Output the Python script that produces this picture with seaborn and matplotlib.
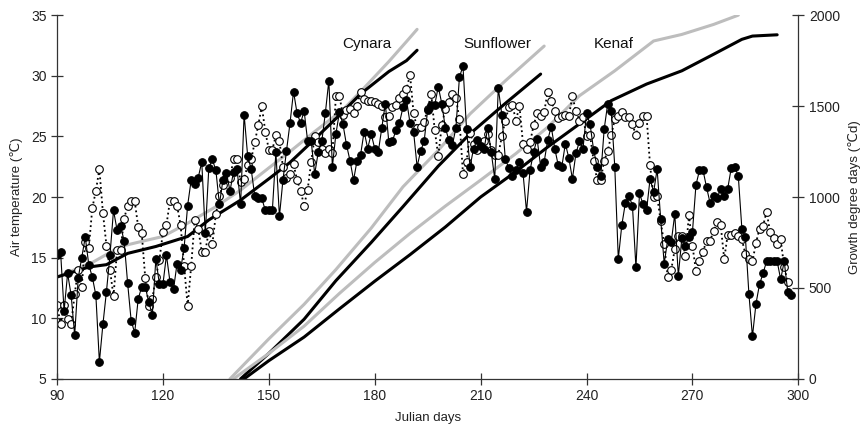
import matplotlib
matplotlib.use("Agg")
import matplotlib.pyplot as plt
import seaborn as sns

# ---- daily air temperature (filled circles, solid line) ----
days_filled = list(range(90, 299))
temp_filled = [
    15.2, 15.5, 10.6, 13.7, 11.9, 8.6, 13.3, 15.0, 16.7, 14.4,
    13.4, 11.9, 6.4, 9.5, 12.2, 15.2, 18.9, 17.3, 17.6, 16.4,
    12.9, 9.8, 8.8, 11.6, 12.6, 12.6, 11.3, 10.3, 14.9, 12.8,
    12.8, 15.2, 13.0, 12.4, 14.5, 14.0, 15.8, 19.3, 21.4, 21.1,
    21.6, 22.9, 17.0, 22.4, 23.1, 22.2, 19.4, 21.4, 22.0, 20.5,
    22.1, 22.3, 19.4, 26.8, 23.4, 22.3, 20.1, 19.9, 19.9, 18.9,
    18.9, 18.9, 23.7, 18.4, 21.4, 23.8, 26.1, 28.7, 26.9, 26.1,
    27.1, 24.6, 24.6, 21.9, 23.7, 24.6, 26.9, 29.6, 22.5, 25.2,
    27.0, 26.0, 24.3, 23.0, 21.4, 23.0, 23.5, 25.4, 24.0, 25.2,
    24.0, 23.7, 25.7, 27.7, 24.5, 24.6, 25.5, 26.1, 27.4, 28.0,
    26.1, 25.4, 22.5, 23.8, 24.6, 27.2, 27.6, 27.6, 29.1, 27.7,
    25.7, 24.7, 24.3, 25.7, 29.9, 30.8, 25.6, 22.5, 24.0, 24.7,
    24.2, 24.0, 25.7, 23.7, 21.5, 29.0, 26.8, 23.1, 22.4, 21.7,
    22.2, 22.9, 22.0, 18.8, 22.2, 23.7, 24.8, 22.5, 22.9, 24.7,
    25.8, 24.0, 22.6, 22.5, 24.4, 23.2, 21.5, 23.6, 24.6, 24.0,
    26.9, 26.0, 23.9, 22.5, 21.7, 25.6, 27.7, 27.1, 22.5, 14.9,
    17.7, 19.5, 20.1, 19.3, 14.2, 20.3, 19.4, 18.9, 21.5, 20.4,
    22.3, 18.2, 14.5, 16.5, 16.3, 18.6, 13.5, 16.6, 16.0, 16.7,
    17.1, 21.0, 22.2, 22.2, 20.8, 19.5, 20.1, 19.9, 20.7, 20.1,
    20.7, 22.4, 22.5, 21.7, 17.4, 16.7, 12.0, 8.5, 11.2, 12.8,
    13.7, 14.7, 14.7, 14.7, 14.7, 13.2, 14.7, 12.2, 11.9,
]

# ---- daily air temperature (open circles, dotted line) ----
days_open = list(range(90, 298))
temp_open = [
    11.1, 9.5, 11.1, 9.9, 9.5, 12.0, 14.0, 12.6, 16.3, 15.8,
    19.1, 20.5, 22.3, 18.7, 16.0, 14.0, 11.8, 15.6, 15.6, 18.2,
    19.3, 19.7, 19.7, 17.5, 17.0, 13.3, 11.0, 11.6, 13.4, 14.8,
    17.1, 17.7, 19.7, 19.7, 19.3, 17.7, 14.3, 11.0, 14.3, 18.1,
    17.4, 15.5, 15.5, 17.2, 16.1, 18.6, 20.1, 21.0, 21.6, 21.6,
    23.1, 23.1, 21.2, 21.5, 22.6, 23.1, 24.5, 25.9, 27.5, 25.4,
    23.9, 23.9, 25.1, 24.6, 22.5, 21.6, 21.9, 22.7, 21.4, 20.5,
    19.3, 20.6, 22.9, 25.0, 24.5, 24.0, 23.6, 24.0, 23.6, 28.3,
    28.3, 26.8, 27.2, 27.3, 26.9, 27.5, 28.7, 28.1, 27.9, 27.9,
    27.8, 27.7, 27.5, 26.6, 26.7, 27.4, 27.6, 28.2, 28.5, 28.9,
    30.1, 26.9, 25.7, 25.8, 26.2, 27.3, 28.5, 25.5, 23.4, 25.9,
    27.3, 27.8, 28.5, 28.2, 26.4, 21.9, 22.9, 25.3, 24.4, 23.9,
    24.2, 24.6, 25.2, 23.9, 23.5, 23.5, 25.0, 26.3, 27.4, 27.6,
    26.3, 27.5, 24.4, 24.0, 24.5, 25.9, 26.9, 26.7, 27.0, 28.7,
    27.9, 27.1, 26.5, 26.7, 26.8, 26.7, 28.3, 27.1, 26.3, 26.6,
    25.0, 25.1, 23.0, 21.4, 21.4, 23.0, 23.8, 25.1, 26.4, 26.7,
    27.0, 26.6, 26.6, 26.0, 25.1, 26.1, 26.7, 26.7, 22.6, 20.0,
    20.1, 18.0, 16.1, 13.4, 14.0, 15.7, 16.8, 16.8, 15.1, 18.5,
    16.0, 13.9, 14.7, 15.5, 16.4, 16.4, 17.2, 17.9, 17.7, 14.9,
    16.9, 16.9, 17.0, 16.8, 16.5, 15.3, 14.9, 14.7, 16.2, 17.4,
    17.6, 18.8, 17.1, 16.6, 16.1, 16.5, 14.2, 13.0,
]

# ---- growth degree days (right axis) ----
cyn_black_days = [90, 99, 104, 110, 118, 127, 133, 142, 150, 156, 162, 170, 176, 184, 189, 192]
cyn_black_gdd = [560, 615, 628, 690, 728, 783, 874, 983, 1100, 1190, 1300, 1450, 1567, 1690, 1750, 1807]
cyn_gray_days = [90, 100, 108, 114, 120, 127, 135, 142, 150, 156, 163, 171, 177, 184, 189, 192]
cyn_gray_gdd = [560, 640, 728, 756, 783, 856, 947, 1038, 1160, 1250, 1360, 1480, 1600, 1745, 1855, 1922]

sun_black_days = [142, 150, 160, 169, 179, 188, 198, 207, 217, 227]
sun_black_gdd = [0, 140, 328, 540, 750, 947, 1170, 1348, 1515, 1676]
sun_gray_days = [139, 150, 160, 169, 179, 188, 198, 207, 217, 228]
sun_gray_gdd = [0, 220, 410, 601, 829, 1056, 1257, 1457, 1639, 1830]

ken_black_days = [143, 150, 160, 170, 180, 190, 200, 210, 220, 229, 238, 247, 257, 267, 276, 284, 287, 291, 294]
ken_black_gdd = [0, 100, 230, 385, 537, 683, 835, 1000, 1140, 1275, 1402, 1530, 1621, 1694, 1785, 1867, 1885, 1889, 1892]
ken_gray_days = [140, 150, 160, 170, 180, 190, 200, 210, 220, 229, 238, 248, 259, 267, 276, 283]
ken_gray_gdd = [0, 140, 290, 470, 640, 800, 950, 1093, 1239, 1384, 1557, 1694, 1858, 1894, 1949, 2000]

crop_labels = ["Cynara", "Sunflower", "Kenaf"]
crop_label_x = [177.7, 214.8, 247.8]

GRAY = "#bdbdbd"
AXC = "#333333"

sns.set_style("ticks")
plt.rcParams["font.family"] = ["Liberation Sans", "DejaVu Sans"]

fig = plt.figure(figsize=(8.64, 4.33), dpi=100)
ax = fig.add_axes([0.066, 0.125, 0.858, 0.84])
ax2 = ax.twinx()

curves = [
    (cyn_gray_days, cyn_gray_gdd, GRAY),
    (cyn_black_days, cyn_black_gdd, "black"),
    (sun_gray_days, sun_gray_gdd, GRAY),
    (sun_black_days, sun_black_gdd, "black"),
    (ken_gray_days, ken_gray_gdd, GRAY),
    (ken_black_days, ken_black_gdd, "black"),
]
for d, g, c in curves:
    sns.lineplot(x=d, y=g, ax=ax2, color=c, linewidth=2.2, legend=False)

sns.lineplot(x=days_open, y=temp_open, ax=ax, color="black", linestyle=":",
             linewidth=1.3, marker="o", markersize=5.5, markerfacecolor="white",
             markeredgecolor="black", markeredgewidth=0.8, legend=False)
sns.lineplot(x=days_filled, y=temp_filled, ax=ax, color="black", linewidth=0.8,
             marker="o", markersize=5.5, markerfacecolor="black",
             markeredgecolor="black", legend=False)

ax.set_zorder(ax2.get_zorder() + 1)
ax.patch.set_visible(False)

ax.set_xlim(90, 300)
ax.set_ylim(5, 35)
ax2.set_ylim(0, 2000)
ax.set_xticks(range(90, 301, 30))
ax.set_yticks(range(5, 36, 5))
ax2.set_yticks(range(0, 2001, 500))

for a in (ax, ax2):
    a.spines["top"].set_visible(False)
    for s in a.spines.values():
        s.set_color(AXC)
        s.set_linewidth(0.9)
ax.spines["right"].set_visible(False)
ax2.spines["left"].set_visible(False)
ax2.spines["bottom"].set_visible(False)

ax.tick_params(axis="both", direction="inout", length=8, width=0.9, colors=AXC,
               labelcolor="#222222", labelsize=10)
ax2.tick_params(axis="y", direction="inout", length=8, width=0.9, colors=AXC,
                labelcolor="#222222", labelsize=10)

ax.set_xlabel("Julian days", fontsize=9.5, color="#222222", labelpad=6)
ax.set_ylabel("Air temperature (℃)", fontsize=9.5, color="#222222", labelpad=6)
ax2.set_ylabel("Growth degree days (℃d)", fontsize=9.5, color="#222222", labelpad=6)

for lbl, x in zip(crop_labels, crop_label_x):
    ax.text(x, 32.6, lbl, ha="center", va="center", fontsize=11, color="#111111")

fig.savefig("out.png", dpi=100)
